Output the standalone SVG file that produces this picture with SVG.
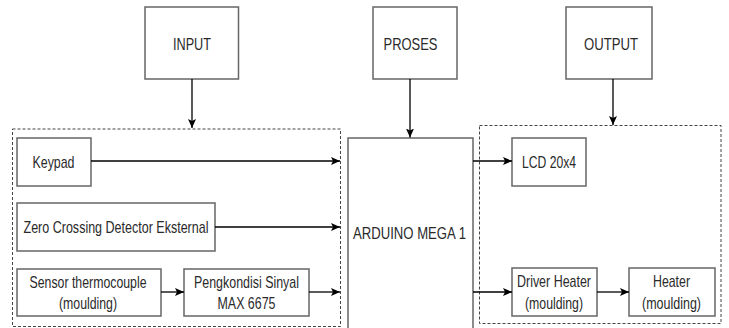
<svg xmlns="http://www.w3.org/2000/svg" width="729" height="328" viewBox="0 0 729 328">
<defs>
<style>
.box{fill:#fff;stroke:#666;stroke-width:1.5}
.grp{fill:none;stroke:#444;stroke-width:1;stroke-dasharray:3 2}
.t{font-family:"Liberation Sans",Arial,sans-serif;font-size:17px;fill:#2a2a2a;text-anchor:middle}
.c{fill:none;stroke:#000;stroke-width:1.3}
</style>
<marker id="ah" markerUnits="userSpaceOnUse" markerWidth="10" markerHeight="10" refX="9" refY="4" orient="auto">
<path d="M0,0 L9,4 L0,8 L2,4 z" fill="#000"/>
</marker>
</defs>
<rect width="729" height="328" fill="#fff"/>
<g id="group-input"><rect class="grp" x="12.5" y="129" width="328" height="197.5"/></g>
<g id="group-output"><rect class="grp" x="479.5" y="125.5" width="241.5" height="198"/></g>
<g id="input"><rect class="box" x="145" y="7" width="93.5" height="72"/><text class="t" x="192" y="50" textLength="38" lengthAdjust="spacingAndGlyphs">INPUT</text></g>
<g id="proses"><rect class="box" x="373" y="7" width="84" height="72"/><text class="t" x="410.5" y="50" textLength="54" lengthAdjust="spacingAndGlyphs">PROSES</text></g>
<g id="output"><rect class="box" x="566" y="7" width="86" height="72"/><text class="t" x="611" y="50" textLength="54" lengthAdjust="spacingAndGlyphs">OUTPUT</text></g>
<g id="keypad"><rect class="box" x="17" y="138" width="74" height="48"/><text class="t" x="53.5" y="168" textLength="42" lengthAdjust="spacingAndGlyphs">Keypad</text></g>
<g id="zcd"><rect class="box" x="17" y="203" width="198" height="48"/><text class="t" x="116" y="233" textLength="185" lengthAdjust="spacingAndGlyphs">Zero Crossing Detector Eksternal</text></g>
<g id="sensor"><rect class="box" x="17" y="269" width="144" height="47"/><text class="t" x="88" y="287.5" textLength="117" lengthAdjust="spacingAndGlyphs">Sensor thermocouple</text><text class="t" x="88" y="309" textLength="58" lengthAdjust="spacingAndGlyphs">(moulding)</text></g>
<g id="pengkondisi"><rect class="box" x="184" y="269" width="125" height="47"/><text class="t" x="246.5" y="287.5" textLength="105" lengthAdjust="spacingAndGlyphs">Pengkondisi Sinyal</text><text class="t" x="246.5" y="309" textLength="58" lengthAdjust="spacingAndGlyphs">MAX 6675</text></g>
<g id="arduino"><rect class="box" x="348" y="138" width="125" height="200"/><text class="t" x="409.5" y="239" textLength="113" lengthAdjust="spacingAndGlyphs">ARDUINO MEGA 1</text></g>
<g id="lcd"><rect class="box" x="512" y="138" width="74" height="48"/><text class="t" x="549" y="168" textLength="54" lengthAdjust="spacingAndGlyphs">LCD 20x4</text></g>
<g id="driver"><rect class="box" x="512" y="268" width="85" height="48"/><text class="t" x="554" y="287" textLength="74" lengthAdjust="spacingAndGlyphs">Driver Heater</text><text class="t" x="554" y="309" textLength="58" lengthAdjust="spacingAndGlyphs">(moulding)</text></g>
<g id="heater"><rect class="box" x="629" y="268" width="86" height="48"/><text class="t" x="671.5" y="287" textLength="37" lengthAdjust="spacingAndGlyphs">Heater</text><text class="t" x="671.5" y="309" textLength="59" lengthAdjust="spacingAndGlyphs">(moulding)</text></g>
<g id="connectors">
<line class="c" x1="192" y1="79" x2="192" y2="128" marker-end="url(#ah)"/>
<line class="c" x1="410" y1="79" x2="410" y2="137.5" marker-end="url(#ah)"/>
<line class="c" x1="613" y1="79" x2="613" y2="125" marker-end="url(#ah)"/>
<line class="c" x1="91" y1="161" x2="340" y2="161" marker-end="url(#ah)"/>
<line class="c" x1="215" y1="227" x2="340" y2="227" marker-end="url(#ah)"/>
<line class="c" x1="161" y1="292" x2="184" y2="292" marker-end="url(#ah)"/>
<line class="c" x1="309" y1="292" x2="340" y2="292" marker-end="url(#ah)"/>
<line class="c" x1="473" y1="161" x2="512" y2="161" marker-end="url(#ah)"/>
<line class="c" x1="473" y1="292" x2="512" y2="292" marker-end="url(#ah)"/>
<line class="c" x1="597" y1="292" x2="629" y2="292" marker-end="url(#ah)"/>
</g>
</svg>
